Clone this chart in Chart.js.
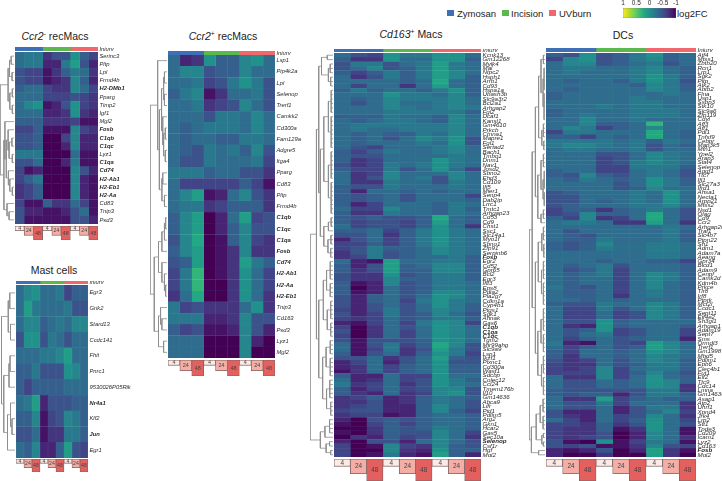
<!DOCTYPE html>
<html><head><meta charset="utf-8">
<script src="https://cdn.jsdelivr.net/npm/chart.js@4"></script>
<style>
html,body{margin:0;padding:0;background:#fff;width:722px;height:481px;overflow:hidden;font-family:"Liberation Sans",sans-serif;color:#222}
canvas{position:absolute;display:block}
.t{position:absolute;white-space:nowrap;line-height:1}
.s{position:absolute}
sup{font-size:65%;line-height:0}
</style></head><body>
<script>
// ---------- data: log2FC in tenths, columns = 4/24/48 h for Zymosan, Incision, UVburn ----------
const timepoints=['4','24','48','4','24','48','4','24','48'];
const tileDepth=[1,2,3,1,2,3,1,2,3];
const injuryNames=['Zymosan','Incision','UVburn'];
const boldGenes=['H2-DMb1','Fosb','C1qb','C1qc','C1qa','Cd74','H2-Ab1','H2-Eb1','H2-Aa','Nr4a1','Jun','Selenop'];
const dcBoldGenes=['Fosb'];

const ccr2negGenes=['Serinc3','Pltp','Lpl','Frmd4b','H2-DMb1','Pparg','Timp2','Igf1','Mgl2','Fosb','C1qb','C1qc','Lyz1','C1qa','Cd74','H2-Ab1','H2-Eb1','H2-Aa','Cd83','Tnip3','Psd3'];
const ccr2negValues=[
[-3,-2,-2,-7,-5,-5,0,-4,-6],[-3,-2,-2,-8,-8,-2,1,-5,-8],[-5,-6,-6,-9,-7,-4,-2,-3,-7],[-5,-6,-6,-9,-8,-7,-1,-4,-8],
[-4,-3,-3,-6,-7,-7,-1,-3,-6],[-3,-3,-3,-6,-6,-6,-5,-6,-7],[-3,-1,0,-9,-8,-5,0,-6,-7],[-3,-3,-3,-8,-8,-7,0,-7,-8],
[-4,-4,-4,-7,-7,-7,-6,-9,-9],[-6,-6,-4,-9,-9,-9,-1,-6,-7],[-5,-5,-4,-10,-10,-6,-1,-8,-8],[-5,-5,-4,-10,-10,-8,-1,-8,-8],
[-2,-2,-2,-10,-10,-10,-3,-9,-9],[-5,-5,-3,-10,-10,-8,-2,-9,-9],[-6,-9,-8,-10,-10,-10,-1,-5,-8],[-6,-4,-2,-10,-10,-10,-1,-8,-9],
[-7,-6,-4,-10,-10,-10,-1,-8,-9],[-7,-6,-4,-10,-10,-10,-1,-8,-9],[-6,-9,-9,-4,-7,-7,-3,-6,-9],[-5,-8,-8,-9,-9,-8,-5,-3,-9],[-5,-9,-9,-9,-9,-9,-5,-5,-8]];
const ccr2negTree=[1,[.42,[.32,[.2,2],[.14,2]],[.3,[.12,2],[.12,2]]],[.72,[.65,1,[.55,[.42,1,[.35,[.15,2],[.12,2]]],[.4,1,[.3,1,[.12,2]]]]],[.5,1,[.35,2]]]];

const mastGenes=['Egr3','Grik2','Stard13','Ccdc141','Fhit','Pnrc1','9530026P05Rik','Nr4a1','Klf2','Jun','Egr1'];
const mastValues=[
[-3,-1,0,-3,-3,-2,-6,-4,-4],[-3,1,-2,-3,-3,-3,-2,-5,-5],[-3,-1,-1,-4,-3,-2,-3,-1,-1],[-5,0,0,-5,-2,-3,-5,-3,-3],
[-3,-3,-3,-2,-2,-1,1,-3,-3],[-4,-4,-2,-5,-5,-5,0,-1,-3],[-4,-6,-4,-4,-4,-4,-3,-3,-3],[-3,-2,1,-8,-5,-5,-5,-4,-4],
[-4,-4,-1,-9,-6,-5,-1,-2,-4],[-5,-5,-3,-9,-7,-7,-2,-2,-4],[-3,-4,-1,-8,-8,-4,1,-5,-6]];
const mastTree=[.9,[.45,[.35,2],[.3,2]],[.75,[.4,[.33,2],1],[.5,[.3,1,[.2,2]],1]]];

const ccr2posGenes=['Lsp1','Pip4k2a','Lpl','Selenop','Trerf1','Camkk2','Cd300a','Fam129a','Adgre5','Itga4','Pparg','Cd83','Pltp','Frmd4b','C1qb','C1qc','C1qa','Fosb','Cd74','H2-Ab1','H2-Aa','H2-Eb1','Tnip3','Cd163','Psd3','Lyz1','Mgl2'];
const ccr2posBold=['C1qb','C1qc','C1qa','Fosb','Cd74','H2-Ab1','H2-Aa','H2-Eb1'];
const ccr2posValues=[
[-3,-8,-7,0,-4,-4,-1,0,-3],[-3,-1,-1,-5,-4,-4,-1,-3,-3],[-3,-3,-2,-6,-5,-2,0,-2,-5],[-4,-2,-1,-9,-7,-3,-3,-2,-5],
[-3,-3,-2,-7,-6,-5,-1,-3,-5],[-3,-3,-3,-5,-2,-2,-3,-1,-3],[-3,-4,-3,-2,-2,-2,-3,-1,-3],[-3,-4,-3,-3,-4,-4,-2,-2,-3],
[-3,-4,-5,-2,-3,-2,-4,-1,-5],[-3,-5,-5,-2,-3,-3,-3,-2,-6],[-2,-2,-2,-4,-3,-3,-5,-5,-7],[-3,-6,-6,-6,-6,-6,-4,-6,-9],
[-3,-1,1,-9,-8,-3,-1,-5,-7],[-3,-2,-2,-7,-6,-4,-4,-4,-7],[-4,-1,1,-10,-8,-3,1,-6,-5],[-4,-1,1,-10,-8,-4,-1,-5,-5],
[-5,-1,2,-10,-9,-4,-1,-6,-7],[-4,-1,1,-10,-9,-7,-1,-7,-7],[-5,-4,1,-10,-9,-7,1,-2,-4],[-6,-2,3,-10,-9,-7,0,-3,-6],
[-6,-2,3,-10,-10,-7,0,-3,-6],[-7,-3,2,-10,-10,-7,0,-3,-7],[-2,-6,-5,-7,-7,-7,-3,0,-7],[-2,-2,-2,-8,-8,-7,-1,-5,-5],
[-4,-6,-5,-9,-9,-8,-1,-5,-8],[-3,-3,-3,-10,-10,-10,-1,-8,-10],[-3,-3,-3,-10,-10,-10,-1,-10,-10]];
const ccr2posTree=[1,[.55,1,[.45,[.32,[.2,[.15,2],[.15,2]],[.25,1,[.2,[.1,2],[.1,2]]]],[.3,[.25,2],[.15,2]]]],[.75,[.5,[.3,[.15,[.08,2],1],1],[.3,1,[.15,1,[.08,2]]]],[.5,[.38,1,[.3,2]],[.2,2]]]];

const cd163Genes=['Kcnk13','Gm12268','Mylk4','Mal','Ntpc2','Hsph1','Arrb1','Cd93','Hspa1a','Ubash3b',
'Slc9a3r2','Bcl2a1','Arhgap2','Fgl2','Dcaf1','Kansl1','Gm4610','Prkcb','Ctnna1','Mapre1',
'Fgl1','Sertad2','Bach1','Tmbo1','Dnm1','Nav1','Josd2','Sbno2','Ehd3','Cd109',
'Ifi5','Mier1','Senp4','Dab2ip','Lrrc1','Tmtc1','Arhgap23','Cd53','Cd9','Chst1',
'Ssc1','Slc14a1','Myo1f','Sbno1','Zfp91','Serpinb6','Fosb','Egr2','Cd52','Gpr65',
'Bcl2','Egr3','Ifit3','Eps8','Pdia2','Pla2g7','Cdkn1a','Cyp4b1','Ptgs1','Sgk1',
'Ahnak','Gas6','C1qb','C1qa','C1qc','Tgm2','Mir99ahg','Slc9a9','Lsp1','Ikzf1',
'Plxnc1','Cd300a','Wasf1','Sdcbp','Colec12','Ccl24','Tmem176b','Il10','Gm14636','Abca9',
'Lifr','Pid1','Pdlim5','Arg2','Gkn1','Hcar2','Gas5','Sec10a','Selenop','Csf1r','Hgf','Mgl2'];
const cd163Bold=['Fosb','C1qb','C1qa','C1qc','Selenop'];
const cd163Values=[
[-3,-5,-6,0,-2,-2,0,0,-3],[-4,-7,-7,0,-3,-3,0,0,-4],[-5,-2,-2,-5,-3,-2,1,-2,-3],[-5,-3,-1,-5,-4,-2,1,-2,-3],
[-4,-6,-4,-2,-4,-2,1,-1,-3],[-3,-7,-5,-2,-4,-2,1,-1,-4],[-3,-3,-3,-3,-4,-3,2,-3,-4],[-3,-6,-3,-3,-7,-3,1,-3,-4],
[-4,-2,-4,-3,-3,-4,-2,0,-4],[-3,-3,-3,0,-2,-2,-3,-1,-4],[-3,-4,-3,-1,-2,-2,-2,-1,-3],[-3,-5,-3,-1,-3,-3,-2,-1,-3],
[-3,-3,-3,-1,-2,-3,-2,-1,-2],[-3,-3,-3,-2,-2,-2,-2,-2,-4],[-4,-4,-4,-2,-3,-3,-4,-1,-3],[-3,-4,-3,-2,-2,-3,-4,-1,-3],
[-3,-2,-2,-2,-2,-2,-2,-1,-3],[-3,-2,-3,-3,-2,-2,-2,-1,-3],[-3,-4,-3,-4,-4,-2,-3,-1,-3],[-3,-4,-3,-5,-3,-1,-2,0,-5],
[-3,-4,-3,-3,-3,-2,-3,0,-5],[-3,-5,-6,-3,-3,-3,-2,-1,-3],[-4,-6,-4,-2,-3,-3,-2,-1,-3],[-4,-5,-5,-3,-3,-3,-3,-2,-3],
[-4,-7,-6,-3,-3,-3,0,-2,-3],[-5,-7,-6,-2,-3,-2,0,-2,-3],[-4,-6,-6,-2,-5,-3,0,-3,-6],[-3,-7,-6,-1,-3,-3,-3,-1,-3],
[-3,-7,-5,-1,-3,-2,-5,-1,-3],[-3,-7,-7,-2,-3,-3,-5,-2,-3],[-4,-5,-5,-2,-3,-3,-3,-2,-3],[-4,-8,-3,-3,-4,-3,-4,-3,-3],
[-4,-5,-4,-3,-5,-3,-3,-3,-6],[-4,-5,-4,-3,-5,-3,-3,-3,-4],[-4,-8,-6,-3,-3,-3,-4,-2,-3],[-3,-6,-6,-1,-3,-3,-4,-2,-4],
[-4,-7,-7,-2,-3,-3,-4,-2,-3],[-4,-5,-4,-5,-5,-4,2,-3,-4],[-4,-6,-5,-5,-6,-4,1,-3,-4],[-3,-6,-5,-5,-6,-4,0,-3,-7],
[-4,-4,-3,-6,-4,-2,0,-2,-3],[-5,-5,-3,-7,-4,-2,0,-2,-3],[-8,-5,-3,-6,-4,-2,0,-2,-3],[-6,-6,-4,-6,-4,-2,0,-2,-3],
[-6,-5,-2,-4,-4,-3,-1,-2,-3],[-7,-5,-2,-5,-4,-3,-1,-2,-3],[-7,-6,-2,-5,-4,-3,-3,-2,-4],[-3,-8,-9,1,-3,-3,-2,-2,-4],
[-4,-8,-5,1,-4,-3,-1,-1,-4],[-4,-7,-5,1,-4,-4,-1,-1,-4],[-5,-7,-7,0,-5,-4,-2,-2,-4],[-5,-7,-7,-1,-4,-4,-2,-2,-4],
[-4,-9,-8,-1,-5,-4,-2,-2,-3],[-4,-10,-8,-3,-5,-4,-2,-2,-3],[-4,-9,-8,-3,-5,-4,-1,-1,-3],[-5,-8,-4,-3,-5,-3,0,-1,-3],
[-5,-8,-4,-3,-6,-2,0,-2,-3],[-5,-8,-5,-3,-5,-3,0,-2,-4],[-6,-8,-5,-2,-5,-3,-1,-2,-4],[-5,-8,-6,-2,-5,-4,-1,-3,-5],
[-6,-7,-6,-3,-5,-4,-2,-2,-4],[-8,-9,-6,-3,-6,-2,0,-1,-6],[-6,-10,-7,-3,-5,-3,0,-1,-3],[-5,-10,-7,-3,-6,-3,0,-1,-3],
[-6,-10,-7,-3,-6,-3,0,-1,-3],[-5,-9,-5,-5,-5,-4,0,-1,-3],[-3,-9,-5,-2,-6,-4,2,-1,-5],[-3,-9,-6,-2,-7,-5,1,-2,-5],
[-4,-9,-5,-3,-7,-4,0,-2,-6],[-5,-5,-3,-7,-5,-3,1,-4,-5],[-8,-6,-3,-8,-5,-3,0,-5,-5],[-8,-7,-3,-6,-4,-3,0,-4,-4],
[-9,-7,-3,-6,-4,-3,0,-4,-4],[-4,-8,-8,-3,-6,-6,0,-3,-3],[-3,-8,-7,-3,-6,-5,0,-2,-4],[-2,-7,-6,-3,-7,-5,0,-2,-3],
[-4,-8,-6,-3,-6,-5,-1,-1,-5],[-4,-7,-8,-3,-7,-6,-1,0,-5],[-7,-6,-4,-8,-7,-4,-2,-3,-4],[-7,-7,-5,-8,-7,-4,-2,-3,-5],
[-7,-6,-5,-8,-8,-4,-1,-3,-5],[-6,-5,-5,-8,-8,-4,-1,-4,-6],[-7,-6,-6,-9,-8,-4,-3,-3,-4],[-8,-10,-5,-4,-5,-4,-3,-3,-4],
[-9,-10,-6,-4,-6,-4,-3,-3,-4],[-10,-10,-7,-4,-5,-4,-2,-3,-4],[-9,-10,-7,-4,-5,-5,-1,-3,-6],[-10,-7,-8,-4,-6,-5,-1,-3,-7],
[-8,-10,-5,-5,-8,-3,-1,-3,-5],[-6,-10,-9,-1,-6,-7,-1,-4,-5],[-6,-10,-10,-1,-7,-8,0,-4,-4],[-6,-10,-9,-2,-8,-9,1,-4,-8]];
const cd163Tree=[1,[.72,[.62,[.5,[.25,2],[.2,[.12,3],[.1,3]]],[.55,[.4,[.2,[.08,6],[.08,8]],[.2,[.08,7],[.08,8]]],[.4,[.2,[.08,3],1],[.22,[.09,3],[.1,3]]]]],
[.62,[.42,[.28,[.12,5],[.12,4]],[.25,[.1,5],[.1,4]]],[.45,[.3,[.12,4],[.12,5]],[.28,[.14,5],[.1,4]]]]],[.55,[.35,[.15,4],1],[.3,[.15,2],[.1,2]]]];

const dcGenes=['Atf4','Mtss1','Zbtb20','Rcn1','Lrp1','Sgk2','Pltp','Atk2','Abtb2','Flna',
'Usp1','Ssbp3','Stk10','Slc9a6','Zfp119','Cdyl','Aff3','Aff1','Pdl1','Tnfsf9',
'Cebpr','Map3k5','Mfn1','Ypel2','Arap3','Stat4','Selenop','Aggf1','Ttc7','Ifi1',
'Slc27a3','Ifrd1','Ahsa1','Necta1','Arpp21','Mtss2','Nsd1','Olag','Cd9','Ccr2',
'Arhgap26','Traf1','Slc4b7','Ptpn22','Sh1','Adm1','Adam7a','Aeang','Gpr34','Bicd1',
'Adam9','Cenpf','Camk2d','Kdm4b','Prkce','Tlr8','Irf8','Ptprk','Mcf2l','Ccdc1',
'Sept11','Eif4e2','Sh3gl1','Arhgap1','Adam19','Sept7','Sms','Ormdl3','Trerf1','Gm19987',
'Mbd5','Pdlim1','Epb6','Clec4b1','Fut1','Elf2','Ttc9','Cdc14','Lmna','Gm14636',
'Asap1','Atp2','Uhrf1','Xpnd4','Jrk4','Lrp2','Stt1','Tpde3','Cd209','Icam1',
'Lyz2','Cd163','Fosb','Mgl2'];
const dcValues=[
[-4,-5,0,-5,-4,-2,0,-4,-3],[-6,-1,0,-5,-4,-2,-1,-4,-3],[-3,-1,-1,-5,-4,-3,-2,-5,-3],[-3,-2,-2,-3,-3,-2,-1,-3,-4],
[-3,-2,-3,-3,-3,-2,-1,-3,-4],[-3,-3,-3,-3,-3,-2,0,-2,-4],[-3,-4,-3,-3,-4,-2,0,-2,-5],[-3,-3,-3,-3,-3,-4,-1,-2,-4],
[-3,-4,-3,-3,-3,-3,-1,-2,-4],[-4,-3,-3,-3,-3,-3,-3,-2,-3],[-4,-3,-3,-3,-3,-2,-3,-3,-3],[-3,-3,-3,-3,-3,-2,-2,-3,-3],
[-3,-3,-3,-2,-3,-2,-2,-3,-3],[-4,-3,-3,-3,-3,-2,-2,-2,-3],[-4,-3,-2,-3,-3,-2,-2,-2,-3],[-3,-3,-1,-3,-3,-2,-3,-3,-3],
[-3,-3,-1,-4,-4,-3,3,-3,-3],[-3,-1,-2,-6,-4,-3,-1,-3,-3],[-6,-2,-2,-3,-3,-3,2,-3,-4],[-4,-4,-6,-3,-4,-3,2,-3,-4],
[-2,-2,-2,-2,-3,-2,-4,-2,-3],[-2,-1,-1,-2,-3,-2,-5,-3,-4],[-3,-2,-2,-3,-3,-2,-5,-3,-3],[-3,-3,-3,-5,-5,-3,-1,-2,-3],
[-3,-3,-3,-6,-5,-3,-1,-2,-3],[-3,-3,-3,-6,-5,-2,-1,-2,-3],[-3,-3,-3,-6,-6,-2,-2,-2,-4],[-4,-3,-3,-6,-6,-3,-2,-3,-5],
[-4,-5,-1,-4,-5,-3,-2,-3,-5],[-3,-4,-2,-3,-4,-3,0,-2,-4],[-3,-3,-3,-3,-5,-3,0,-2,-4],[-3,-3,-3,-3,-5,-4,-1,-3,-3],
[-5,-4,-3,-3,-3,-2,-3,0,-3],[-5,-5,-3,-3,-3,-2,-3,0,-3],[-5,-5,-3,-4,-3,-2,-3,0,-3],[-5,-4,-3,-3,-3,-2,-2,-1,-3],
[-6,-4,-4,-7,-4,-3,-2,-3,-5],[-6,-5,-1,-4,-4,-3,2,-3,-5],[-4,-6,-1,-7,-6,-3,2,-3,-5],[-3,-2,-2,-3,-7,-7,1,-3,-7],
[-3,-3,-3,-3,-3,-3,-3,-2,-3],[-3,-5,-3,-3,-3,-3,-3,-2,-4],[-3,-4,-5,-3,-3,-3,-3,-2,-4],[-3,-4,-4,-2,-3,-3,-3,-2,-4],
[-4,-5,-4,-1,-3,-3,-2,-2,-3],[-4,-5,-4,-2,-3,-3,-2,-2,-3],[-3,-3,-3,-3,-3,-3,-2,-2,-3],[-3,-3,-3,-3,-3,-3,-2,-2,-3],
[-3,-3,-3,-4,-3,-3,-4,-4,-6],[-3,-4,-3,-2,-5,-3,-3,-3,-4],[-3,-5,-4,-2,-6,-3,-3,-3,-4],[-3,-4,-3,-2,-6,-3,-1,-2,-4],
[-3,-4,-3,-3,-6,-3,-1,-2,-4],[-3,-4,-3,-3,-6,-3,-1,-3,-4],[-2,-4,-5,-3,-6,-3,-1,-3,-4],[-3,-4,-4,-3,-6,-3,-2,-3,-4],
[-3,-4,-4,-3,-7,-3,-2,-3,-4],[-3,-3,-4,-3,-4,-3,-3,-3,-4],[-4,-5,-5,-2,-3,-3,-1,-2,-4],[-3,-6,-6,-2,-5,-3,-1,-2,-4],
[-3,-6,-6,-3,-6,-5,-1,-2,-4],[-3,-6,-6,-3,-6,-5,-1,-2,-4],[-3,-5,-5,0,-4,-3,-3,-3,-3],[-3,-7,-8,0,-4,-3,-3,-3,-4],
[-3,-5,-4,0,-6,-5,-3,-3,-6],[-3,-5,-3,-2,-6,-5,-3,-3,-6],[-3,-6,-4,-3,-5,-4,-3,-3,-8],[-2,-8,-9,-3,-5,-6,1,-1,-3],
[-3,-6,-4,-3,-5,-4,1,-1,-3],[-4,-6,-3,-3,-4,-3,0,-1,-3],[-4,-7,-3,-3,-4,-3,-1,-2,-3],[-5,-7,-6,-3,-5,-3,-1,-2,-4],
[-6,-7,-7,-3,-5,-4,-2,-2,-4],[-6,-7,-6,-1,-6,-3,-2,-2,-4],[-6,-6,-6,-1,-6,-4,-1,-3,-5],[-3,-7,-7,-1,-6,-3,0,-3,-4],
[-3,-5,-5,-3,-4,-3,0,-1,-4],[-3,-5,-5,-3,-4,-3,0,-1,-7],[-4,-5,-5,-5,-5,-5,-2,-2,-7],[-4,-5,-4,-4,-8,-5,-2,-2,-4],
[-3,-7,-7,1,-6,-4,-3,-4,-4],[-3,-5,-5,-2,-6,-3,-3,-3,-7],[-3,-5,-5,-3,-8,-5,-2,-2,-7],[-5,-8,-8,-3,-8,-5,-3,-1,-6],
[-5,-7,-8,-3,-6,-5,-1,-3,-7],[-3,-6,-8,-3,-6,-4,0,-3,-6],[-6,-6,-7,-4,-7,-5,0,-3,-5],[-6,-7,-7,-4,-9,-7,0,-3,-9],
[-6,-7,-7,-5,-10,-8,-1,-3,-9],[-6,-7,-6,-5,-10,-8,-1,-3,-7],[-5,-9,-10,0,-9,-6,-2,-3,-9],[-5,-6,-5,-9,-9,-7,-1,-5,-6],
[-8,-9,-8,-5,-10,-8,1,-7,-9],[-8,-10,-10,-7,-10,-10,1,-7,-10]];
const dcTree=[1,[.8,[.6,[.4,[.25,[.1,3],[.12,[.06,6],[.06,7]]],[.2,[.1,4],[.08,3]]],[.45,[.25,[.1,4],[.12,[.05,5],[.05,4]]],[.25,[.1,3],[.08,1]]]],
[.6,[.42,[.2,[.1,4],[.08,4]],[.22,[.1,5],[.1,6]]],[.45,[.25,[.1,6],[.1,5]],[.22,[.1,5],[.1,5]]]]],[.85,[.55,[.3,[.12,4],[.12,4]],[.2,[.1,2],[.1,2]]],[.4,2]]];

const colorTickValues=[1,0.5,0,-0.5,-1];
const viridisStops=['#440154','#482475','#414487','#355f8d','#2a788e','#21918c','#22a884','#44bf70','#7ad151','#bddf26','#fde725'];

// ---------- colours and styles ----------
const injuryColors=['#3f6fb5','#5cb84a','#f0686c'];
const tileColors={'4':'#fdeae6','24':'#f5aea6','48':'#e4605f'};
const FONT='"Liberation Sans"';
Chart.defaults.font.family=FONT;
Chart.defaults.animation=false;
Chart.defaults.responsive=false;
Chart.defaults.plugins.legend.display=false;
Chart.defaults.plugins.tooltip.enabled=false;

function hex(c){return [1,3,5].map(i=>parseInt(c.substr(i,2),16));}
function viridis(v){
  const t=Math.max(0,Math.min(1,(v+1)/2))*(viridisStops.length-1);
  const i=Math.min(viridisStops.length-2,Math.floor(t)),f=t-i;
  const a=hex(viridisStops[i]),b=hex(viridisStops[i+1]);
  return `rgb(${a.map((x,k)=>Math.round(x+(b[k]-x)*f)).join(',')})`;
}
function canvas(l,t,w,h){
  const c=document.createElement('canvas');
  c.width=w;c.height=h;c.style.left=l+'px';c.style.top=t+'px';c.style.width=w+'px';c.style.height=h+'px';
  document.body.appendChild(c);return c;
}
function text(html,l,t,size,extra){
  const d=document.createElement('div');d.className='t';d.innerHTML=html;
  d.style.left=l+'px';d.style.top=t+'px';d.style.fontSize=size+'px';
  if(extra)Object.assign(d.style,extra);document.body.appendChild(d);return d;
}
function hidden(o){return Object.assign({display:false},o);}
function fixAxis(s,w){s.width=w;s.paddingTop=0;s.paddingBottom=0;}

function heat(p){
  const lw=p.labelW;
  const cols=timepoints.map((_,j)=>({
    label:'t'+j,
    data:p.values.map(()=>1),
    backgroundColor:p.values.map(r=>viridis(r[j]/10)),
    borderColor:p.values.map(r=>viridis(r[j]/10+0.12)),borderWidth:p.cellBorder,borderSkipped:false,inflateAmount:0.3,
    barPercentage:1,categoryPercentage:1,stack:'s'
  }));
  new Chart(canvas(p.x,p.y,Math.round(p.w+lw),Math.round(p.h)),{type:'bar',
    data:{labels:p.genes,datasets:cols},
    options:{indexAxis:'y',layout:{padding:0},
      scales:{
        x:hidden({type:'linear',stacked:true,min:0,max:9}),
        y:{type:'category',position:'right',stacked:true,offset:true,
          grid:{display:false,drawTicks:false},border:{display:false},
          afterFit:s=>fixAxis(s,lw),
          ticks:{autoSkip:false,padding:1.5,color:'#2a2a2a',
            font:c=>{const g=p.genes[c.index];const b=p.bold.includes(g);
              return {family:FONT,size:p.labelSize,style:'italic',weight:b?'bold':'normal'};}}}
      }}});
}
function strip(p){
  new Chart(canvas(p.x,p.sy,Math.round(p.w+p.labelW),p.sh),{type:'bar',
    data:{labels:['Injury'],datasets:injuryNames.map((nm,i)=>({label:nm,data:[3],backgroundColor:injuryColors[i],barPercentage:1,categoryPercentage:1,stack:'s'}))},
    options:{indexAxis:'y',layout:{padding:0},
      scales:{x:hidden({type:'linear',stacked:true,min:0,max:9}),
        y:{type:'category',position:'right',stacked:true,grid:{display:false,drawTicks:false},border:{display:false},
          afterFit:s=>fixAxis(s,p.labelW),
          ticks:{autoSkip:false,padding:1.5,color:'#2a2a2a',font:{size:p.labelSize,style:'italic'}}}}}});
}
const tileLabelPlugin={id:'tileLabels',afterDatasetsDraw(ch,a,o){
  const ctx=ch.ctx;ctx.save();ctx.fillStyle='#444';ctx.textAlign='center';ctx.textBaseline='middle';
  ctx.font=`${o.size}px ${FONT}`;
  ch.getDatasetMeta(0).data.forEach((b,i)=>{ctx.fillText(ch.data.labels[i],b.x,(b.y+b.base)/2+0.3);});
  ctx.restore();}};
function tiles(p){
  const pad=1;
  new Chart(canvas(p.x-pad,p.ty-pad,Math.round(p.w+2*pad),Math.round(3*p.unit+2*pad)),{type:'bar',
    data:{labels:timepoints,datasets:[{data:tileDepth,backgroundColor:timepoints.map(t=>tileColors[t]),
      borderColor:'#7f6363',borderWidth:0.8,borderSkipped:false,barPercentage:1,categoryPercentage:1}]},
    options:{layout:{padding:pad},
      plugins:{tileLabels:{size:p.tileSize}},
      scales:{x:hidden({type:'category'}),y:hidden({type:'linear',min:0,max:3,reverse:true})}},
    plugins:[tileLabelPlugin]});
}
function dendroSegments(tree){
  let next=0;const pts=[];
  const seg=(x1,y1,x2,y2)=>{pts.push({x:x1,y:y1},{x:x2,y:y2},{x:null,y:null});};
  function walk(node){
    const h=node[0];const ys=[];
    node.slice(1).forEach(ch=>{
      if(typeof ch==='number'){for(let i=0;i<ch;i++){const y=next+0.5;next++;seg(h,y,0,y);ys.push(y);}}
      else{const r=walk(ch);seg(h,r.y,r.h,r.y);ys.push(r.y);}
    });
    seg(h,ys[0],h,ys[ys.length-1]);
    return {h,y:(ys[0]+ys[ys.length-1])/2};
  }
  walk(tree);return pts;
}
function dendro(p){
  const pts=dendroSegments(p.tree);
  const w=Math.round(p.dw);
  new Chart(canvas(p.x-w-1,p.y,w,Math.round(p.h)),{type:'scatter',
    data:{datasets:[{data:pts,showLine:true,spanGaps:false,pointRadius:0,borderColor:'#8d8d8d',borderWidth:0.8,clip:false}]},
    options:{layout:{padding:0},scales:{
      x:hidden({type:'linear',min:0,max:1,reverse:true}),
      y:hidden({type:'linear',min:0,max:p.values.length,reverse:true})}}});
}
function panel(p){
  p.bold=p.bold||boldGenes;
  strip(p);heat(p);tiles(p);dendro(p);
  text(p.title,p.tx,p.ty0,p.titleSize||10.5,{transform:'translateX(-50%)'});
}

panel({title:'<i>Ccr2</i><sup>-</sup> recMacs',tx:55,ty0:31,x:15,y:52,w:83,h:172,sy:47,sh:4,ty:226,unit:4.5,tileSize:5.2,dw:14,labelW:40,labelSize:5.8,cellBorder:0.4,
  genes:ccr2negGenes,values:ccr2negValues,tree:ccr2negTree});
panel({title:'Mast cells',tx:54,ty0:265,x:16,y:285,w:72,h:173,sy:281,sh:3,ty:459,unit:4.4,tileSize:5.2,dw:15,labelW:50,labelSize:5.8,cellBorder:0.4,
  genes:mastGenes,values:mastValues,tree:mastTree});
panel({title:'<i>Ccr2</i><sup>+</sup> recMacs',tx:223,ty0:31,x:168,y:55,w:107,h:303,sy:51,sh:4,ty:360,unit:5.2,tileSize:5.4,dw:17,labelW:40,labelSize:5.8,cellBorder:0.4,bold:ccr2posBold,
  genes:ccr2posGenes,values:ccr2posValues,tree:ccr2posTree});
panel({title:'<i>Cd163</i><sup>+</sup> Macs',tx:411,ty0:29,x:334,y:53,w:147,h:404,sy:49,sh:3,ty:459,unit:7.2,tileSize:6.4,dw:23,labelW:36,labelSize:6.2,cellBorder:0.3,bold:cd163Bold,
  genes:cd163Genes,values:cd163Values,tree:cd163Tree});
panel({title:'DCs',tx:623,ty0:29.5,x:546,y:53,w:150,h:404,sy:48,sh:4,ty:459,unit:7.2,tileSize:6.4,dw:16,labelW:26,labelSize:6.2,cellBorder:0.3,bold:dcBoldGenes,
  genes:dcGenes,values:dcValues,tree:dcTree});

// legend
const legendX=[447,502,549],legendTextX=[457,511,559];
injuryNames.forEach((nm,i)=>{
  const s=document.createElement('div');s.className='s';
  Object.assign(s.style,{left:legendX[i]+'px',top:'10px',width:'7px',height:'6px',background:injuryColors[i]});
  document.body.appendChild(s);
  text(nm,legendTextX[i],8.5,9.5);
});
text('log2FC',677,9,9.5);

// colour bar
(function(){
  const axisH=8;
  new Chart(canvas(619,0,61,19),{type:'bar',
    data:{labels:['log2FC'],datasets:[{data:[[-1,1]],
      barPercentage:1,categoryPercentage:1,borderColor:'#555',borderWidth:0.5,borderSkipped:false,
      backgroundColor:c=>{const a=c.chart.chartArea;if(!a)return '#21918c';
        const g=c.chart.ctx.createLinearGradient(a.left,0,a.right,0);
        viridisStops.slice().reverse().forEach((col,i)=>g.addColorStop(i/(viridisStops.length-1),col));return g;}}]},
    options:{indexAxis:'y',layout:{padding:{left:4,right:4,bottom:1}},
      scales:{
        y:hidden({type:'category'}),
        x:{type:'linear',position:'top',min:-1,max:1,reverse:true,
          afterFit:s=>{s.height=axisH;s.paddingLeft=0;s.paddingRight=0;},
          afterBuildTicks:s=>{s.ticks=colorTickValues.map(v=>({value:v}));},
          border:{display:false},
          grid:{drawOnChartArea:false,drawTicks:false},
          ticks:{autoSkip:false,padding:1,color:'#2a2a2a',maxRotation:0,font:{size:6.5},callback:v=>String(v)}}}}});
})();
</script>
</body></html>
